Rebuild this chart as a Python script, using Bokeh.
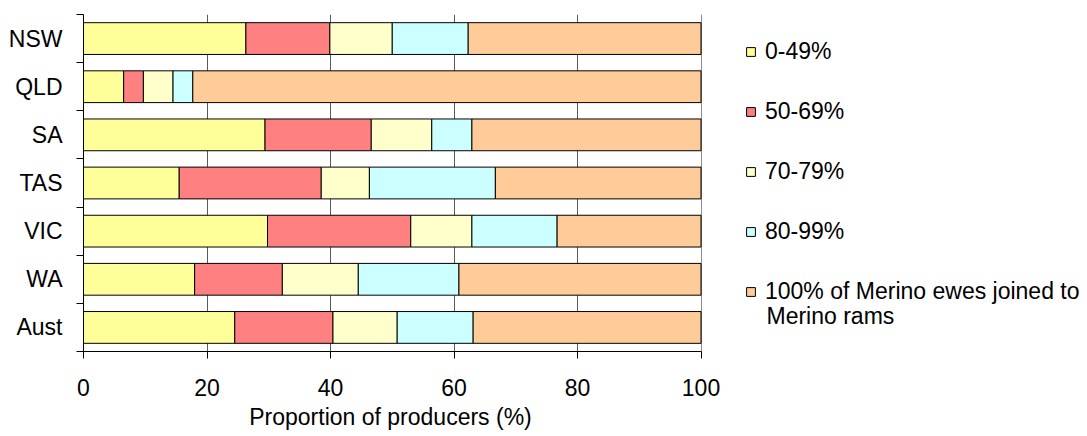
from bokeh.plotting import figure
from bokeh.models import (Range1d, FixedTicker, Legend, LegendItem, ColumnDataSource,
                          Grid, Label, Title)
from bokeh.embed import file_html
from bokeh.resources import INLINE

# Regions, listed top to bottom
regions = ["NSW", "QLD", "SA", "TAS", "VIC", "WA", "Aust"]

# Share of producers (%) in each band of Merino ewes joined to Merino rams
band_0_49 = [26.3, 6.5, 29.4, 15.5, 29.8, 18.0, 24.5]
band_50_69 = [13.6, 3.2, 17.2, 23.0, 23.2, 14.2, 15.9]
band_70_79 = [10.1, 4.8, 9.8, 7.8, 9.9, 12.3, 10.4]
band_80_99 = [12.3, 3.2, 6.5, 20.4, 13.8, 16.3, 12.3]
band_100 = [37.7, 82.3, 37.1, 33.3, 23.3, 39.2, 36.9]

series_labels = ["0-49%", "50-69%", "70-79%", "80-99%",
                 "100% of Merino ewes joined to"]
last_label_line2 = "Merino rams"
series_colors = ["#FFFF99", "#FF8080", "#FFFFCC", "#CCFFFF", "#FFCC99"]
x_ticks = [0, 20, 40, 60, 80, 100]
x_title = "Proportion of producers (%)"

FONT = "Liberation Sans"
FSIZE = "23px"

W, H = 1087, 436
LEFT, TOP, BOTTOM = 83, 14, 85
PLOT_PX = 617.5  # pixel width of the 0-100 scale; legend sits to its right
frame_px = W - LEFT
x_end = 100 * frame_px / PLOT_PX

keys = ["b0", "b1", "b2", "b3", "b4"]
ypos = [i + 0.5 for i in range(len(regions))]
source = ColumnDataSource(dict(y=ypos, b0=band_0_49, b1=band_50_69, b2=band_70_79,
                               b3=band_80_99, b4=band_100))

p = figure(width=W, height=H, output_backend="svg", toolbar_location=None,
           x_range=Range1d(0, x_end), y_range=Range1d(len(regions), 0),
           min_border_left=LEFT, min_border_right=0, min_border_top=TOP,
           min_border_bottom=BOTTOM, background_fill_color="white",
           border_fill_color="white")
p.outline_line_color = None

renderers = p.hbar_stack(keys, y="y", height=0.66, source=source,
                         fill_color=series_colors, line_color="black", line_width=1)

# Inner vertical gridlines
p.xgrid.ticker = FixedTicker(ticks=[20, 40, 60, 80])
p.xgrid.grid_line_color = "#5a5a5a"
p.xgrid.grid_line_width = 1
p.ygrid.visible = False

# Grey box edges (top and right) around the 0-100 plotting area
p.add_layout(Grid(dimension=0, ticker=FixedTicker(ticks=[100]),
                  grid_line_color="#8c8c8c", grid_line_width=1))
p.add_layout(Grid(dimension=1, ticker=FixedTicker(ticks=[0]), bounds=(0, 100),
                  grid_line_color="#8c8c8c", grid_line_width=1))

# Bottom axis
xa = p.xaxis[0]
xa.ticker = FixedTicker(ticks=x_ticks)
xa.bounds = (0, 100)
xa.major_label_text_font = FONT
xa.major_label_text_font_size = FSIZE
xa.major_label_text_color = "black"
xa.major_label_standoff = 20
xa.axis_line_color = "black"
xa.major_tick_line_color = "black"
xa.major_tick_out = 7
xa.major_tick_in = 0
xa.minor_tick_line_color = None

# Axis title, centred under the 0-100 scale
title_width_px = 286
p.add_layout(Title(text=x_title, align="left",
                   offset=PLOT_PX / 2 - title_width_px / 2,
                   text_font=FONT, text_font_size=FSIZE, text_font_style="normal",
                   text_color="black", standoff=7), "below")

# Left axis: labels at category centres, ticks at category boundaries
ya = p.yaxis[0]
ya.ticker = FixedTicker(ticks=ypos, minor_ticks=list(range(len(regions) + 1)))
ya.major_label_overrides = {y: name for y, name in zip(ypos, regions)}
ya.major_label_text_font = FONT
ya.major_label_text_font_size = FSIZE
ya.major_label_text_color = "black"
ya.major_label_standoff = 14
ya.axis_line_color = "black"
ya.major_tick_line_color = None
ya.major_tick_out = 0
ya.major_tick_in = 0
ya.minor_tick_line_color = "black"
ya.minor_tick_out = 7
ya.minor_tick_in = 0

items = [LegendItem(label=lab, renderers=[r]) for lab, r in zip(series_labels, renderers)]
legend = Legend(items=items, location=(662, 46), orientation="vertical",
                glyph_width=11, glyph_height=11, label_standoff=9,
                label_text_font=FONT, label_text_font_size=FSIZE,
                label_text_color="black", label_height=26, spacing=33,
                padding=0, margin=0, border_line_alpha=0,
                background_fill_alpha=0)
p.add_layout(legend, "center")

# Second line of the last legend entry
p.add_layout(Label(x=683, y=36, x_units="screen", y_units="screen",
                   text=last_label_line2, text_font=FONT, text_font_size=FSIZE,
                   text_color="black", text_baseline="middle", text_align="left"))

open("out.html", "w").write(file_html(p, INLINE))
